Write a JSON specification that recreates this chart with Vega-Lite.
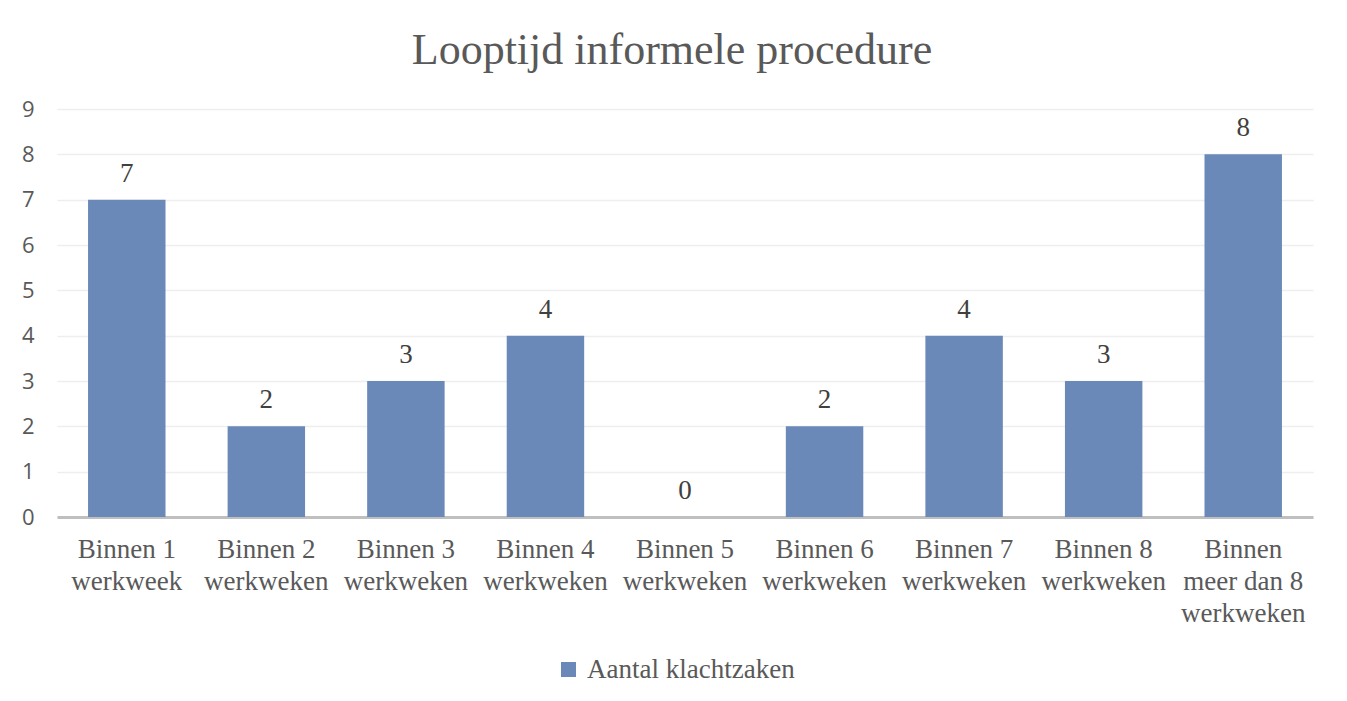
{
  "$schema": "https://vega.github.io/schema/vega-lite/v6.json",
  "width": 1256,
  "height": 408,
  "autosize": {"type": "none"},
  "padding": {"left": 57, "top": 109, "right": 34, "bottom": 184},
  "background": "white",
  "title": {
    "text": "Looptijd informele procedure",
    "font": "Liberation Serif",
    "fontSize": 44,
    "fontWeight": "normal",
    "color": "#595959",
    "anchor": "middle",
    "baseline": "alphabetic",
    "offset": -10,
    "dx": -13
  },
  "data": {
    "values": [
      {"categorie": "Binnen 1|werkweek", "reeks": "Aantal klachtzaken", "aantal": 7},
      {"categorie": "Binnen 2|werkweken", "reeks": "Aantal klachtzaken", "aantal": 2},
      {"categorie": "Binnen 3|werkweken", "reeks": "Aantal klachtzaken", "aantal": 3},
      {"categorie": "Binnen 4|werkweken", "reeks": "Aantal klachtzaken", "aantal": 4},
      {"categorie": "Binnen 5|werkweken", "reeks": "Aantal klachtzaken", "aantal": 0},
      {"categorie": "Binnen 6|werkweken", "reeks": "Aantal klachtzaken", "aantal": 2},
      {"categorie": "Binnen 7|werkweken", "reeks": "Aantal klachtzaken", "aantal": 4},
      {"categorie": "Binnen 8|werkweken", "reeks": "Aantal klachtzaken", "aantal": 3},
      {"categorie": "Binnen|meer dan 8|werkweken", "reeks": "Aantal klachtzaken", "aantal": 8}
    ]
  },
  "encoding": {
    "x": {
      "field": "categorie",
      "type": "nominal",
      "sort": null,
      "scale": {"paddingInner": 0.445, "paddingOuter": 0.2225},
      "axis": {
        "title": null,
        "labelAngle": 0,
        "labelExpr": "split(datum.value, '|')",
        "labelFont": "Liberation Serif",
        "labelFontSize": 27,
        "labelColor": "#595959",
        "labelLineHeight": 32,
        "labelBaseline": "top",
        "labelPadding": 19,
        "labelLimit": 300,
        "ticks": false,
        "domainColor": "#bfbfbf",
        "domainWidth": 3,
        "grid": false
      }
    },
    "y": {
      "field": "aantal",
      "type": "quantitative",
      "scale": {"domain": [0, 9], "nice": false},
      "axis": {
        "title": null,
        "values": [0, 1, 2, 3, 4, 5, 6, 7, 8, 9],
        "labelOverlap": false,
        "labelFont": "Open Sans",
        "labelFontSize": 22,
        "labelColor": "#595959",
        "labelPadding": 23
      }
    }
  },
  "layer": [
    {
      "mark": {"type": "bar", "color": "#6a88b8"},
      "encoding": {
        "color": {
          "field": "reeks",
          "type": "nominal",
          "scale": {"range": ["#6a88b8"]},
          "legend": {
            "title": null,
            "orient": "none",
            "legendX": 498,
            "legendY": 547,
            "direction": "horizontal",
            "symbolType": "square",
            "symbolSize": 225,
            "symbolStrokeWidth": 0,
            "labelFont": "Liberation Serif",
            "labelFontSize": 27,
            "labelColor": "#595959",
            "labelOffset": 5,
            "labelLimit": 400
          }
        }
      }
    },
    {
      "mark": {
        "type": "text",
        "font": "Liberation Serif",
        "fontSize": 27,
        "color": "#404040",
        "baseline": "alphabetic",
        "dy": -18
      },
      "encoding": {
        "text": {"field": "aantal", "type": "quantitative"}
      }
    }
  ],
  "config": {
    "view": {"stroke": null},
    "axisY": {
      "ticks": false,
      "domain": false,
      "grid": true,
      "gridColor": "#eeeeee",
      "gridWidth": 1.5
    }
  }
}
